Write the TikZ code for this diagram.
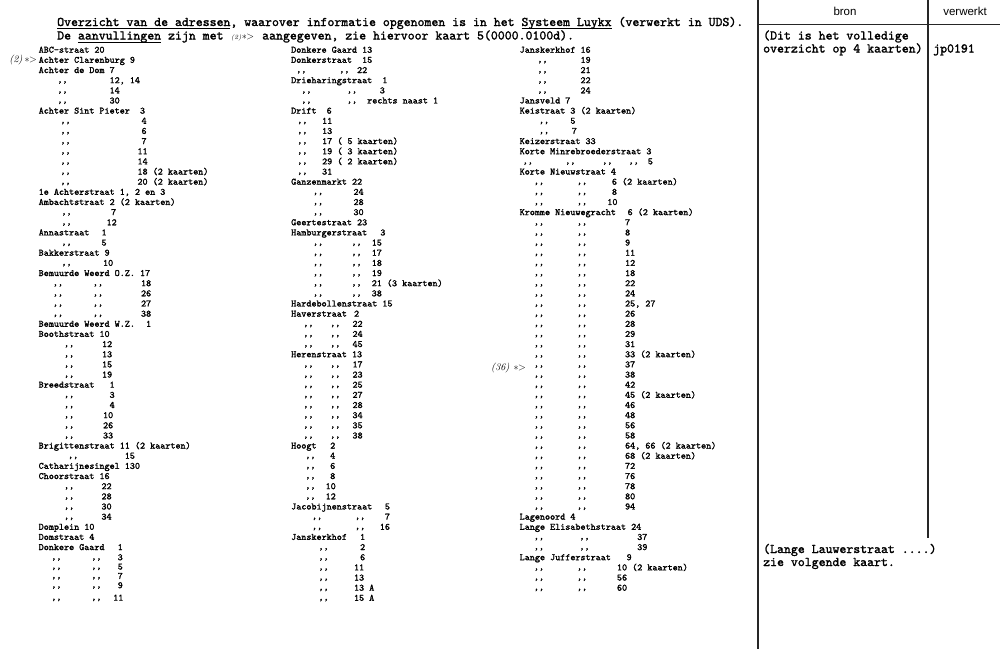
\documentclass[tikz,border=0pt]{standalone}
\usepackage{fontspec}
\newfontfamily\hsans{Liberation Sans}
\newfontfamily\twf{lmmono10-regular.otf}[FakeBold=1.6]
\newlength\cw
\newlength\ulw
\newcommand\Pl[2]{\makebox[0pt][l]{\hspace*{#1\cw}#2}}
\newcommand\dto{\raisebox{0.8pt}{,,}}
\newcommand\Ds[3]{\Pl{#1}{\dto}\Pl{#2}{#3}}
\newcommand\Dd[4]{\Pl{#1}{\dto}\Pl{#2}{\dto}\Pl{#3}{#4}}
\newcommand\myul[1]{\settowidth\ulw{#1}\rlap{\rule[-2.8pt]{\ulw}{0.8pt}}#1}
\newcommand\colfont{\fontsize{9.65}{10.15}\selectfont\twf\settowidth\cw{0}}
\newcommand\ttlfont{\fontsize{13.2}{13.5}\selectfont\twf}
\newcommand\handfont{\fontsize{10}{10}\selectfont\rmfamily\itshape}
\tikzset{
  colnode/.style={anchor=north west, inner sep=0pt, align=left, font=\colfont},
  ttlnode/.style={anchor=base west, inner sep=0pt, font=\ttlfont},
  hdnode/.style={anchor=base, inner sep=0pt, font=\fontsize{11.5}{12}\selectfont\hsans},
  handnode/.style={anchor=base east, inner sep=0pt, font=\handfont},
  rulex/.style={line width=1.6pt, black!85}
}
\begin{document}
\begin{tikzpicture}[x=1pt,y=-1pt]
\useasboundingbox (0,0) rectangle (1000,649);
\fill[white] (0,0) rectangle (1000,649);

% frame of the right-hand panel
\coordinate (v1t) at (758,0);
\coordinate (v1b) at (758,649);
\coordinate (v2t) at (928,0);
\coordinate (v2b) at (928,538);
\coordinate (hl) at (758,24.5);
\coordinate (hr) at (1000,24.5);
\draw[rulex] (v1t) -- (v1b);
\draw[rulex] (v2t) -- (v2b);
\draw[rulex] (hl) -- (hr);

% heading
\node[ttlnode] (t1) at (57,26) {\myul{Overzicht van de adressen}, waarover informatie opgenomen is in het \myul{Systeem Luykx} (verwerkt in UDS).};
\node[ttlnode] (t2a) at (57,39.5) {De \myul{aanvullingen} zijn met};
\node[handnode, anchor=base west] (t2h) at (231,39.5) {{\fontsize{6.5}{7}\selectfont(2)}\kern0.5pt$\ast$\kern-0.5pt$>$};
\node[ttlnode] (t2b) at (262,39.5) {aangegeven, zie hiervoor kaart 5(0000.0100d).};

% right panel texts
\node[hdnode] (bron) at (845,15) {bron};
\node[hdnode] (verw) at (965,15) {verwerkt};
\node[ttlnode] (r1) at (763,39.5) {(Dit is het volledige};
\node[ttlnode] (r2) at (763,52.5) {overzicht op 4 kaarten)};
\node[ttlnode] (jp) at (933,52.5) {jp0191};
\node[ttlnode] (r3) at (763,553) {(Lange Lauwerstraat ....)};
\node[ttlnode] (r4) at (763,566) {zie volgende kaart.};

% handwritten insertion marks
\node[handnode] (h1) at (37,62) {(2)\kern2pt$\ast\!\!>$};
\node[handnode] (h2) at (526,370) {(36)\kern4pt$\ast\!\!>$};

% column 1
\node[colnode] (col1) at (38.5,44.5) {%
\rule{0pt}{8pt}ABC-straat 20\\
Achter Clarenburg 9\\
Achter de Dom 7\\
\Ds{3.7}{14}{12, 14}\\
\Ds{3.7}{14}{14}\\
\Ds{3.7}{14}{30}\\
\Pl{0}{Achter Sint Pieter}\Pl{20}{3}\\
\Ds{4.3}{20.3}{4}\\
\Ds{4.3}{20.3}{6}\\
\Ds{4.3}{20.3}{7}\\
\Ds{4.3}{19.5}{11}\\
\Ds{4.3}{19.5}{14}\\
\Ds{4.3}{19.5}{18 (2 kaarten)}\\
\Ds{4.3}{19.5}{20 (2 kaarten)}\\
1e Achterstraat 1, 2 en 3\\
Ambachtstraat 2 (2 kaarten)\\
\Ds{4.5}{14.3}{7}\\
\Ds{4.5}{13.4}{12}\\
\Pl{0}{Annastraat}\Pl{12.4}{1}\\
\Ds{4.5}{12.4}{5}\\
Bakkerstraat 9\\
\Ds{4.5}{12.7}{10}\\
Bemuurde Weerd O.Z. 17\\
\Dd{2.8}{10.7}{20.2}{18}\\
\Dd{2.8}{10.7}{20.2}{26}\\
\Dd{2.8}{10.7}{20.2}{27}\\
\Dd{2.8}{10.7}{20.2}{38}\\
\Pl{0}{Bemuurde Weerd W.Z.}\Pl{21.2}{1}\\
Boothstraat 10\\
\Ds{5}{12.5}{12}\\
\Ds{5}{12.5}{13}\\
\Ds{5}{12.5}{15}\\
\Ds{5}{12.5}{19}\\
\Pl{0}{Breedstraat}\Pl{14}{1}\\
\Ds{5}{14}{3}\\
\Ds{5}{14}{4}\\
\Ds{5}{12.7}{10}\\
\Ds{5}{12.7}{26}\\
\Ds{5}{12.7}{33}\\
Brigittenstraat 11 (2 kaarten)\\
\Ds{5.8}{17}{15}\\
Catharijnesingel 130\\
Choorstraat 16\\
\Ds{5}{12.4}{22}\\
\Ds{5}{12.4}{28}\\
\Ds{5}{12.4}{30}\\
\Ds{5}{12.4}{34}\\
Domplein 10\\
Domstraat 4\\
\Pl{0}{Donkere Gaard}\Pl{15.6}{1}\\
\Dd{2.5}{10.4}{15.6}{3}\\[-0.8pt]
\Dd{2.5}{10.4}{15.6}{5}\\[-0.8pt]
\Dd{2.5}{10.4}{15.6}{7}\\[-0.8pt]
\Dd{2.5}{10.4}{15.6}{9}\\[2.2pt]
\Dd{2.5}{10.4}{14.7}{11}};

% column 2
\node[colnode] (col2) at (291,44.5) {%
\rule{0pt}{8pt}Donkere Gaard 13\\
\Pl{0}{Donkerstraat}\Pl{14}{15}\\
\Dd{1}{9.5}{13}{22}\\
\Pl{0}{Drieharingstraat}\Pl{18}{1}\\
\Dd{2}{11}{17.5}{3}\\
\Dd{2}{11}{15}{rechts naast 1}\\
\Pl{0}{Drift}\Pl{7}{6}\\
\Ds{1.2}{6.1}{11}\\
\Ds{1.2}{6.1}{13}\\
\Ds{1.2}{6.1}{17 ( 5 kaarten)}\\
\Ds{1.2}{6.1}{19 ( 3 kaarten)}\\
\Ds{1.2}{6.1}{29 ( 2 kaarten)}\\
\Ds{1.2}{6.1}{31}\\
Ganzenmarkt 22\\
\Ds{4.3}{12.3}{24}\\
\Ds{4.3}{12.3}{28}\\
\Ds{4.3}{12.3}{30}\\
Geertestraat 23\\
\Pl{0}{Hamburgerstraat}\Pl{17.6}{3}\\
\Dd{4.3}{11.9}{15.9}{15}\\
\Dd{4.3}{11.9}{15.9}{17}\\
\Dd{4.3}{11.9}{15.9}{18}\\
\Dd{4.3}{11.9}{15.9}{19}\\
\Dd{4.3}{11.9}{15.9}{21 (3 kaarten)}\\
\Dd{4.3}{11.9}{15.9}{38}\\
Hardebollenstraat 15\\
\Pl{0}{Haverstraat}\Pl{12.4}{2}\\
\Dd{2.4}{7.7}{12.1}{22}\\
\Dd{2.4}{7.7}{12.1}{24}\\
\Dd{2.4}{7.7}{12.1}{45}\\
Herenstraat 13\\
\Dd{2.4}{7.7}{12.1}{17}\\
\Dd{2.4}{7.7}{12.1}{23}\\
\Dd{2.4}{7.7}{12.1}{25}\\
\Dd{2.4}{7.7}{12.1}{27}\\
\Dd{2.4}{7.7}{12.1}{28}\\
\Dd{2.4}{7.7}{12.1}{34}\\
\Dd{2.4}{7.7}{12.1}{35}\\
\Dd{2.4}{7.7}{12.1}{38}\\
\Pl{0}{Hoogt}\Pl{7.7}{2}\\
\Ds{2.8}{7.7}{4}\\
\Ds{2.8}{7.7}{6}\\
\Ds{2.8}{7.7}{8}\\
\Ds{2.8}{6.8}{10}\\
\Ds{2.8}{6.8}{12}\\
\Pl{0}{Jacobijnenstraat}\Pl{18.5}{5}\\
\Dd{4.1}{12.6}{18.5}{7}\\
\Dd{4.1}{12.6}{17.5}{16}\\
\Pl{0}{Janskerkhof}\Pl{13.6}{1}\\
\Ds{5.4}{13.6}{2}\\
\Ds{5.4}{13.6}{6}\\
\Ds{5.4}{12.4}{11}\\
\Ds{5.4}{12.4}{13}\\
\Ds{5.4}{12.4}{13 A}\\
\Ds{5.4}{12.4}{15 A}};

% column 3
\node[colnode] (col3) at (519.5,44.5) {%
\rule{0pt}{8pt}Janskerkhof 16\\
\Ds{3.5}{12}{19}\\
\Ds{3.5}{12}{21}\\
\Ds{3.5}{12}{22}\\
\Ds{3.5}{12}{24}\\
Jansveld 7\\
Keistraat 3 (2 kaarten)\\
\Ds{3.8}{10}{5}\\
\Ds{3.8}{10.3}{7}\\
Keizerstraat 33\\
Korte Minrebroederstraat 3\\
\Pl{0.6}{\dto}\Pl{9}{\dto}\Pl{16.3}{\dto}\Pl{21.5}{\dto}\Pl{25.3}{5}\\
Korte Nieuwstraat 4\\
\Dd{2.8}{11.3}{18.2}{6 (2 kaarten)}\\
\Dd{2.8}{11.3}{18.2}{8}\\
\Dd{2.8}{11.3}{17.3}{10}\\
\Pl{0}{Kromme Nieuwegracht}\Pl{21.3}{6 (2 kaarten)}\\
\Dd{2.8}{11.3}{20.8}{7}\\
\Dd{2.8}{11.3}{20.8}{8}\\
\Dd{2.8}{11.3}{20.8}{9}\\
\Dd{2.8}{11.3}{20.8}{11}\\
\Dd{2.8}{11.3}{20.8}{12}\\
\Dd{2.8}{11.3}{20.8}{18}\\
\Dd{2.8}{11.3}{20.8}{22}\\
\Dd{2.8}{11.3}{20.8}{24}\\
\Dd{2.8}{11.3}{20.8}{25, 27}\\
\Dd{2.8}{11.3}{20.8}{26}\\
\Dd{2.8}{11.3}{20.8}{28}\\
\Dd{2.8}{11.3}{20.8}{29}\\
\Dd{2.8}{11.3}{20.8}{31}\\
\Dd{2.8}{11.3}{20.8}{33 (2 kaarten)}\\
\Dd{2.8}{11.3}{20.8}{37}\\
\Dd{2.8}{11.3}{20.8}{38}\\
\Dd{2.8}{11.3}{20.8}{42}\\
\Dd{2.8}{11.3}{20.8}{45 (2 kaarten)}\\
\Dd{2.8}{11.3}{20.8}{46}\\
\Dd{2.8}{11.3}{20.8}{48}\\
\Dd{2.8}{11.3}{20.8}{56}\\
\Dd{2.8}{11.3}{20.8}{58}\\
\Dd{2.8}{11.3}{20.8}{64, 66 (2 kaarten)}\\
\Dd{2.8}{11.3}{20.8}{68 (2 kaarten)}\\
\Dd{2.8}{11.3}{20.8}{72}\\
\Dd{2.8}{11.3}{20.8}{76}\\
\Dd{2.8}{11.3}{20.8}{78}\\
\Dd{2.8}{11.3}{20.8}{80}\\
\Dd{2.8}{11.3}{20.8}{94}\\
Lagenoord 4\\
Lange Elisabethstraat 24\\
\Dd{2.8}{11.8}{23.2}{37}\\
\Dd{2.8}{11.8}{23.2}{39}\\
\Pl{0}{Lange Jufferstraat}\Pl{21.1}{9}\\
\Dd{2.8}{11.3}{19.2}{10 (2 kaarten)}\\
\Dd{2.8}{11.3}{19.2}{56}\\
\Dd{2.8}{11.3}{19.2}{60}};
\end{tikzpicture}
\end{document}
